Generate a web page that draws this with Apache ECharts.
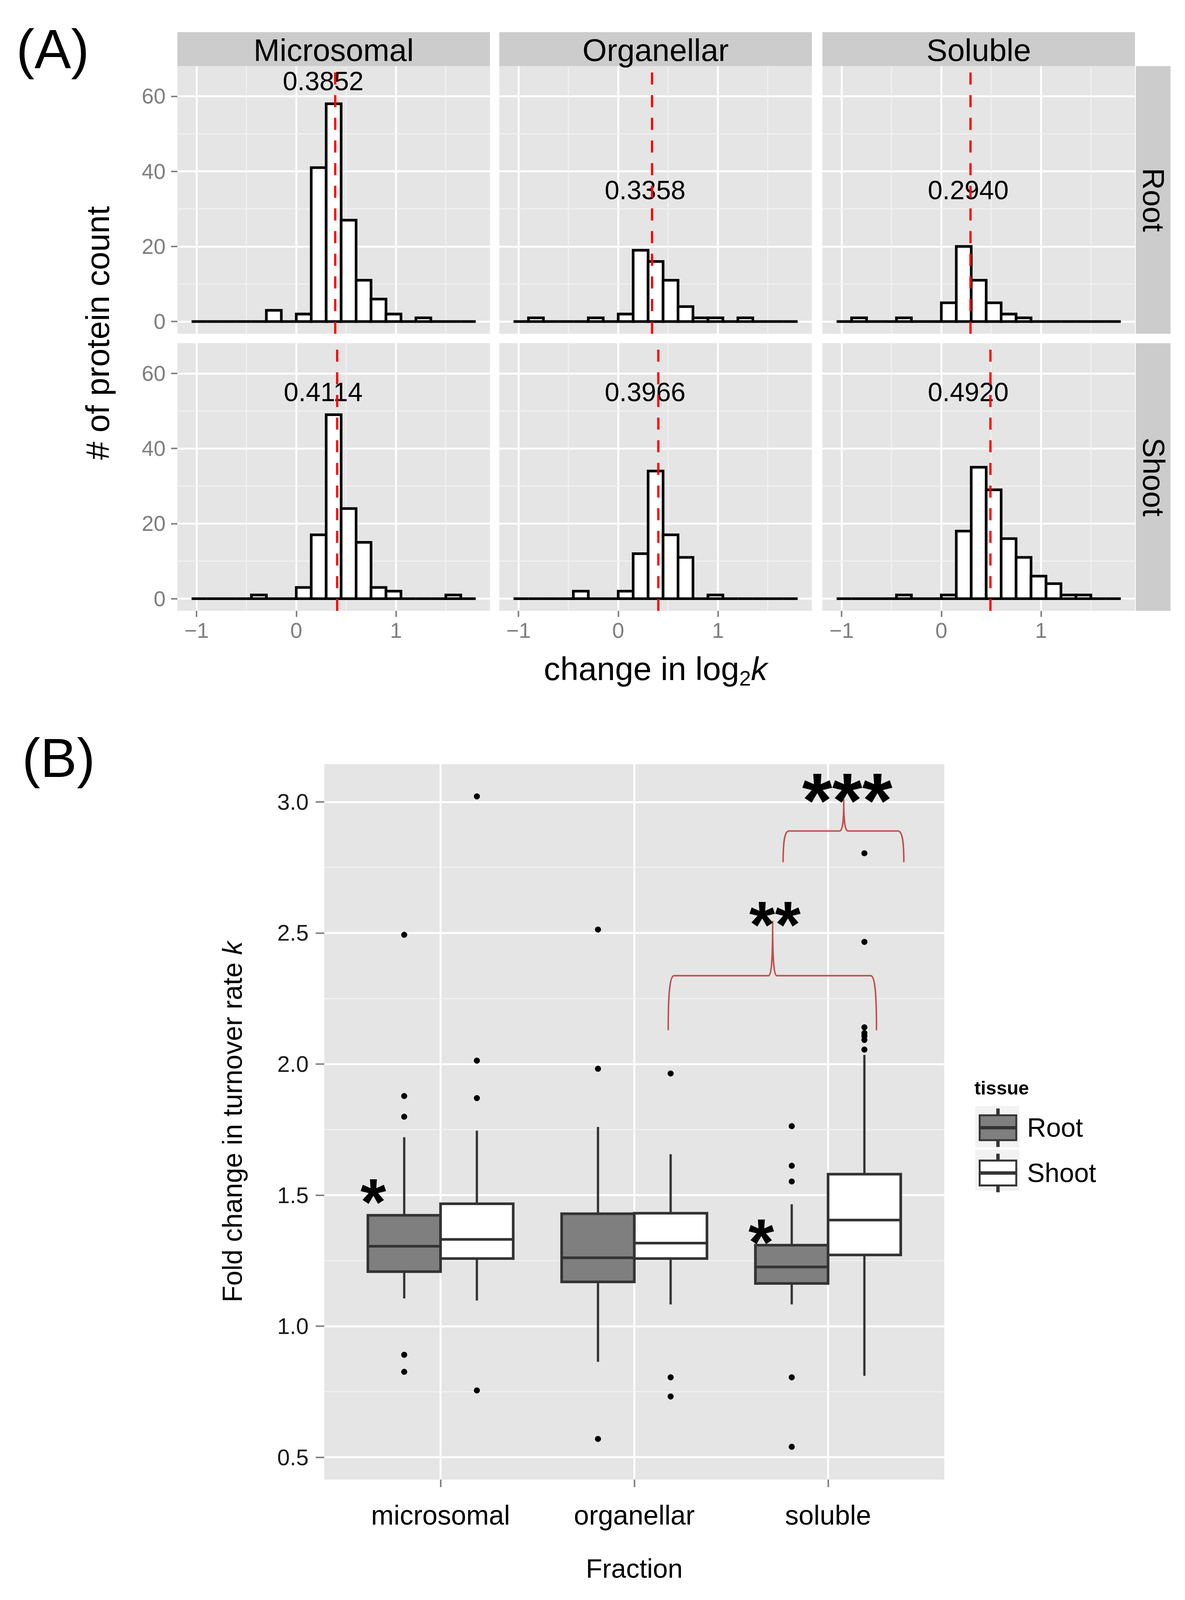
<!DOCTYPE html>
<html><head><meta charset="utf-8">
<script src="https://cdn.jsdelivr.net/npm/echarts@6/dist/echarts.min.js"></script>
<style>html,body{margin:0;padding:0;background:#fff;overflow:hidden}#c{width:3033px;height:4238px}</style>
</head><body><div id="c"></div>
<script>
// ---------------- DATA: panel A (histograms) ----------------
const binEdges = [-1.05,-0.90,-0.75,-0.60,-0.45,-0.30,-0.15,0,0.15,0.30,0.45,0.60,0.75,0.90,1.05,1.20,1.35,1.50,1.65,1.80];
const fractionsA = ['Microsomal','Organellar','Soluble'];
const tissuesA = ['Root','Shoot'];
const countsRootMicrosomal  = [0,0,0,0,0,3,0,2,41,58,27,11,6,2,0,1,0,0,0];
const countsRootOrganellar  = [0,1,0,0,0,1,0,2,19,16,11,4,1,1,0,1,0,0,0];
const countsRootSoluble     = [0,1,0,0,1,0,0,5,20,11,5,2,1,0,0,0,0,0,0];
const countsShootMicrosomal = [0,0,0,0,1,0,0,3,17,49,24,15,3,2,0,0,0,1,0];
const countsShootOrganellar = [0,0,0,0,2,0,0,2,12,34,17,11,0,1,0,0,0,0,0];
const countsShootSoluble    = [0,0,0,0,1,0,0,1,18,35,29,16,11,6,4,1,1,0,0];
const meanRoot  = [0.3852, 0.3358, 0.2940];
const meanShoot = [0.4114, 0.3966, 0.4920];
const labelYRoot  = [64, 35, 35];
const labelYShoot = [55, 55, 55];
const labelX = 0.27;
const histYTicks = [0,20,40,60];
const histYMinor = [10,30,50];
const histXTicks = [-1,0,1];
const histXMinor = [-0.5,0.5,1.5];

// ---------------- DATA: panel B (boxplots) ----------------
const fractionsB = ['microsomal','organellar','soluble'];
// [lower whisker, Q1, median, Q3, upper whisker]
const boxRoot  = [[1.106,1.208,1.305,1.423,1.721],[0.864,1.169,1.261,1.429,1.760],[1.083,1.163,1.226,1.309,1.465]];
const boxShoot = [[1.098,1.258,1.331,1.467,1.746],[1.083,1.258,1.317,1.431,1.656],[0.811,1.272,1.405,1.580,2.035]];
const outRoot  = [[0.891,0.826,1.799,1.878,2.493],[0.570,1.982,2.513],[0.805,0.540,1.552,1.612,1.763]];
const outShoot = [[0.755,1.870,2.013,3.021],[0.732,0.805,1.964],[2.055,2.092,2.107,2.118,2.140,2.466,2.804]];
const boxYTicks = [0.5,1.0,1.5,2.0,2.5,3.0];
const boxYMinor = [0.75,1.25,1.75,2.25,2.75];
const boxXTicks = [0,1,2];
const starText = ['*','*','**','***'];
const starX = [-0.347, 1.655, 1.726, 2.099];
const starY = [1.53, 1.376, 2.588, 3.070];
const braceLeft  = [1.175, 1.768];
const braceRight = [2.25, 2.391];
const braceMid   = [1.714, 2.081];
const braceEndY  = [2.129, 2.770];
const braceBarY  = [2.337, 2.889];
const braceTipY  = [2.546, 3.010];

// ---------------- layout / style ----------------
const W = window.innerWidth || 3033, H = window.innerHeight || 4238;
const kx = W / 3033, ky = H / 4238, kf = Math.min(kx, ky);
const X = v => v * kx, Y = v => v * ky, F = v => v * kf;
const el = document.getElementById('c');
el.style.width = W + 'px'; el.style.height = H + 'px';

const FONT = "'Liberation Sans', Arial, Helvetica, sans-serif";
const histCounts = [[countsRootMicrosomal, countsRootOrganellar, countsRootSoluble],
                    [countsShootMicrosomal, countsShootOrganellar, countsShootSoluble]];
const means = [meanRoot, meanShoot];
const labelYs = [labelYRoot, labelYShoot];
const panelLeft = [454, 1278, 2105], panelW = 800, rowTop = [175, 909], panelH = 709;
const boxHalf = 0.1875;

const chart = echarts.init(el, null, {renderer: 'svg', width: W, height: H});

function minorGridRender(params, api) {
  const cs = params.coordSys;
  const horiz = api.value(2) === 1;
  const pt = api.coord([api.value(0), api.value(1)]);
  const shape = horiz ? {x1: cs.x, y1: pt[1], x2: cs.x + cs.width, y2: pt[1]}
                      : {x1: pt[0], y1: cs.y, x2: pt[0], y2: cs.y + cs.height};
  return {type: 'line', shape: shape, style: {stroke: '#f3f3f3', lineWidth: F(2.5)}};
}
function histRender(params, api) {
  const x0 = api.value(0), x1 = api.value(1), n = api.value(2);
  const a = api.coord([x0, 0]), b = api.coord([x1, n]);
  if (n === 0) return {type: 'line', shape: {x1: a[0], y1: a[1], x2: b[0], y2: a[1]}, style: {stroke: '#000', lineWidth: F(7)}};
  return {type: 'rect', shape: {x: a[0], y: b[1], width: b[0] - a[0], height: a[1] - b[1]},
          style: {fill: '#fff', stroke: '#000', lineWidth: F(7)}};
}
function makeBoxRender(offset, fill) {
  return function (params, api) {
    const cx = api.value(0) + offset;
    const lw = api.value(1), q1 = api.value(2), med = api.value(3), q3 = api.value(4), uw = api.value(5);
    const tl = api.coord([cx - boxHalf, q3]), br = api.coord([cx + boxHalf, q1]);
    const pm = api.coord([cx, med]), pu = api.coord([cx, uw]), pl = api.coord([cx, lw]);
    const ls = {stroke: '#333333', lineWidth: F(6)};
    return {type: 'group', children: [
      {type: 'line', shape: {x1: pm[0], y1: pu[1], x2: pm[0], y2: tl[1]}, style: ls},
      {type: 'line', shape: {x1: pm[0], y1: br[1], x2: pm[0], y2: pl[1]}, style: ls},
      {type: 'rect', shape: {x: tl[0], y: tl[1], width: br[0] - tl[0], height: br[1] - tl[1]},
       style: {fill: fill, stroke: '#333333', lineWidth: F(7)}},
      {type: 'line', shape: {x1: tl[0], y1: pm[1], x2: br[0], y2: pm[1]}, style: {stroke: '#333333', lineWidth: F(7)}}
    ]};
  };
}
function makeOutlierRender(offset) {
  return function (params, api) {
    const p = api.coord([api.value(0) + offset, api.value(1)]);
    return {type: 'circle', shape: {cx: p[0], cy: p[1], r: F(8)}, style: {fill: '#000'}};
  };
}
function braceRender(params, api) {
  const L = api.coord([api.value(0), api.value(3)]);
  const R = api.coord([api.value(1), api.value(3)]);
  const M = api.coord([api.value(2), api.value(4)]);
  const T = api.coord([api.value(2), api.value(5)]);
  const B = M[1], mx = M[0], ty = T[1], Ly = L[1];
  const r = X(15), c = X(11);
  const d = [
    'M', L[0], Ly,
    'C', L[0], B + (Ly - B) * 0.35, L[0] + r * 0.25, B, L[0] + r, B,
    'L', mx - c, B,
    'C', mx - c * 0.2, B, mx, B - (B - ty) * 0.35, mx, ty,
    'C', mx, B - (B - ty) * 0.35, mx + c * 0.2, B, mx + c, B,
    'L', R[0] - r, B,
    'C', R[0] - r * 0.25, B, R[0], B + (Ly - B) * 0.35, R[0], Ly
  ].join(' ');
  return {type: 'path', shape: {pathData: d}, style: {fill: 'none', stroke: '#c0504d', lineWidth: F(4)}};
}
function starRender(params, api) {
  const txt = starText[params.dataIndex];
  const fs = F(txt.length === 3 ? 205 : 175);
  const p = api.coord([api.value(0), api.value(1)]);
  return {type: 'text', style: {text: txt, x: p[0], y: p[1] + 0.22 * fs, fill: '#000',
    fontSize: fs, fontWeight: 'bold', fontFamily: FONT,
    textAlign: 'center', textVerticalAlign: 'middle', align: 'center', verticalAlign: 'middle'}};
}
function txt(text, x, y, size, opts) {
  opts = opts || {};
  return {type: 'text', x: X(x), y: Y(y), rotation: opts.rotation || 0, z: 1,
    style: {text: text, fontSize: F(size), fontFamily: FONT, fontWeight: opts.bold ? 'bold' : 'normal', fill: '#000',
      textAlign: opts.align || 'center', textVerticalAlign: 'middle', align: opts.align || 'center', verticalAlign: 'middle'}};
}

const option = {
  animation: false,
  backgroundColor: '#ffffff',
  textStyle: {fontFamily: FONT},
  grid: [], xAxis: [], yAxis: [], series: [], graphic: []
};

// ---------- Panel A ----------
for (let r = 0; r < 2; r++) {
  for (let c = 0; c < 3; c++) {
    const g = r * 3 + c;
    option.grid.push({left: X(panelLeft[c]), top: Y(rowTop[r]), width: X(panelW), height: Y(panelH),
      show: true, backgroundColor: '#e5e5e5', borderWidth: 0});
    const xa = {
      gridIndex: g, type: 'value', min: -1.1925, max: 1.9425, splitNumber: 3,
      axisLine: {show: false, onZero: false},
      axisTick: {show: r === 1, customValues: histXTicks, length: Y(16), lineStyle: {color: '#7f7f7f', width: F(4)}},
      axisLabel: {show: r === 1, customValues: histXTicks, margin: Y(24), fontSize: F(57), color: '#7f7f7f', fontFamily: FONT,
        formatter: v => histXTicks.includes(v) ? String(v).replace('-', '\u2212') : ''},
      splitLine: {show: true, lineStyle: {color: '#ffffff', width: F(5)}}
    };
    if (r === 1 && c === 1) {
      xa.name = '{a|change in log}{s|2}{i|k}';
      xa.nameLocation = 'middle';
      xa.nameGap = Y(100);
      xa.nameMoveOverlap = false;
      xa.nameTextStyle = {color: '#000', rich: {
        a: {fontSize: F(87), fontFamily: FONT, color: '#000'},
        s: {fontSize: F(56), fontFamily: FONT, color: '#000', padding: [F(50), 0, 0, 0]},
        i: {fontSize: F(87), fontFamily: FONT, fontStyle: 'italic', color: '#000'}
      }};
    }
    option.xAxis.push(xa);
    option.yAxis.push({
      gridIndex: g, type: 'value', min: -3.24, max: 68.04, splitNumber: 3,
      axisLine: {show: false, onZero: false},
      axisTick: {show: c === 0, customValues: histYTicks, length: X(16), lineStyle: {color: '#7f7f7f', width: F(4)}},
      axisLabel: {show: c === 0, customValues: histYTicks, margin: X(30), fontSize: F(57), color: '#7f7f7f', fontFamily: FONT,
        formatter: v => histYTicks.includes(v) ? String(v) : ''},
      splitLine: {show: true, lineStyle: {color: '#ffffff', width: F(5)}}
    });
    option.series.push({
      type: 'custom', xAxisIndex: g, yAxisIndex: g, z: 1, silent: true,
      data: histXMinor.map(v => [v, 0, 0]).concat(histYMinor.map(v => [0, v, 1])),
      renderItem: minorGridRender
    });
    option.series.push({
      type: 'custom', xAxisIndex: g, yAxisIndex: g, z: 2, silent: true,
      data: [[labelX, labelYs[r][c], means[r][c]]],
      renderItem: function (params, api) {
        const pt = api.coord([api.value(0), api.value(1)]);
        return {type: 'text', style: {text: api.value(2).toFixed(4), x: pt[0], y: pt[1], fill: '#000',
          fontSize: F(70), fontFamily: FONT, textAlign: 'center', textVerticalAlign: 'middle', align: 'center', verticalAlign: 'middle'}};
      }
    });
    option.series.push({
      type: 'custom', name: fractionsA[c] + ' ' + tissuesA[r], xAxisIndex: g, yAxisIndex: g, z: 3, silent: true,
      data: histCounts[r][c].map((n, i) => [binEdges[i], binEdges[i + 1], n]),
      renderItem: histRender,
      markLine: {silent: true, symbol: 'none', label: {show: false},
        lineStyle: {color: '#ff0000', width: F(6), type: [Y(32), Y(28)]},
        data: [{xAxis: means[r][c]}]}
    });
  }
}

// strips and panel-A titles
for (let c = 0; c < 3; c++) {
  option.graphic.push({type: 'rect', shape: {x: X(panelLeft[c]), y: Y(85), width: X(panelW), height: Y(90)}, style: {fill: '#cccccc'}, z: 0});
  option.graphic.push(txt(fractionsA[c], panelLeft[c] + panelW / 2, 132, 83));
}
for (let r = 0; r < 2; r++) {
  option.graphic.push({type: 'rect', shape: {x: X(2907), y: Y(rowTop[r]), width: X(89), height: Y(panelH)}, style: {fill: '#cccccc'}, z: 0});
  option.graphic.push(txt(tissuesA[r], 2953, rowTop[r] + panelH / 2, 80, {rotation: -Math.PI / 2}));
}
option.graphic.push(txt('# of protein count', 250, 882, 87, {rotation: Math.PI / 2}));
option.graphic.push(txt('(A)', 135, 130, 145));
option.graphic.push(txt('(B)', 150, 2008, 145));

// ---------- Panel B ----------
const gB = 6;
option.grid.push({left: X(830), top: Y(2024), width: X(1587), height: Y(1895), show: true, backgroundColor: '#e5e5e5', borderWidth: 0});
option.xAxis.push({
  gridIndex: gB, type: 'value', min: -0.6, max: 2.6, splitNumber: 3,
  axisLine: {show: false, onZero: false},
  axisTick: {show: true, customValues: boxXTicks, length: Y(20), lineStyle: {color: '#7f7f7f', width: F(4)}},
  axisLabel: {customValues: boxXTicks, margin: Y(58), fontSize: F(72), color: '#000', fontFamily: FONT,
    formatter: v => (Number.isInteger(v) && fractionsB[v]) ? fractionsB[v] : ''},
  splitLine: {show: true, lineStyle: {color: '#ffffff', width: F(5)}},
  name: 'Fraction', nameLocation: 'middle', nameGap: Y(200), nameMoveOverlap: false,
  nameTextStyle: {fontSize: F(71), color: '#000', fontFamily: FONT}
});
option.yAxis.push({
  gridIndex: gB, type: 'value', min: 0.415, max: 3.144,
  axisLine: {show: false, onZero: false},
  axisTick: {show: true, customValues: boxYTicks, length: X(22), lineStyle: {color: '#7f7f7f', width: F(4)}},
  axisLabel: {customValues: boxYTicks, margin: X(40), fontSize: F(60), color: '#1a1a1a', fontFamily: FONT,
    formatter: v => boxYTicks.some(m => Math.abs(m - v) < 1e-9) ? v.toFixed(1) : ''},
  splitLine: {show: true, lineStyle: {color: '#ffffff', width: F(5)}},
  name: '{a|Fold change in turnover rate }{i|k}', nameLocation: 'middle', nameGap: X(200), nameMoveOverlap: false,
  nameTextStyle: {color: '#000', rich: {
    a: {fontSize: F(72), fontFamily: FONT, color: '#000'},
    i: {fontSize: F(72), fontFamily: FONT, fontStyle: 'italic', color: '#000'}
  }}
});
option.series.push({
  type: 'custom', xAxisIndex: gB, yAxisIndex: gB, z: 1, silent: true,
  data: boxYMinor.map(v => [0, v, 1]), renderItem: minorGridRender
});
option.series.push({
  type: 'custom', name: 'Root', xAxisIndex: gB, yAxisIndex: gB, z: 3, silent: true,
  data: boxRoot.map((b, i) => [i].concat(b)), renderItem: makeBoxRender(-boxHalf, '#7f7f7f')
});
option.series.push({
  type: 'custom', name: 'Shoot', xAxisIndex: gB, yAxisIndex: gB, z: 3, silent: true,
  data: boxShoot.map((b, i) => [i].concat(b)), renderItem: makeBoxRender(boxHalf, '#ffffff')
});
option.series.push({
  type: 'custom', name: 'Root outliers', xAxisIndex: gB, yAxisIndex: gB, z: 4, silent: true,
  data: outRoot.flatMap((arr, i) => arr.map(v => [i, v])), renderItem: makeOutlierRender(-boxHalf)
});
option.series.push({
  type: 'custom', name: 'Shoot outliers', xAxisIndex: gB, yAxisIndex: gB, z: 4, silent: true,
  data: outShoot.flatMap((arr, i) => arr.map(v => [i, v])), renderItem: makeOutlierRender(boxHalf)
});
option.series.push({
  type: 'custom', name: 'braces', xAxisIndex: gB, yAxisIndex: gB, z: 5, silent: true,
  data: braceLeft.map((v, i) => [v, braceRight[i], braceMid[i], braceEndY[i], braceBarY[i], braceTipY[i]]),
  renderItem: braceRender
});
option.series.push({
  type: 'custom', name: 'stars', xAxisIndex: gB, yAxisIndex: gB, z: 5, silent: true,
  data: starX.map((v, i) => [v, starY[i]]), renderItem: starRender
});

// legend
const boxIcon = 'path://M0 16 L100 16 L100 84 L0 84 Z M0 48 L100 48 L100 52 L0 52 Z M48 0 L52 0 L52 16 L48 16 Z M48 84 L52 84 L52 100 L48 100 Z';
option.graphic.push({type: 'rect', shape: {x: X(2496), y: Y(2930), width: X(113), height: Y(109)}, style: {fill: '#f2f2f2'}, z: 0});
option.graphic.push({type: 'rect', shape: {x: X(2496), y: Y(3045), width: X(113), height: Y(109)}, style: {fill: '#f2f2f2'}, z: 0});
option.graphic.push(txt('tissue', 2494, 2882, 50, {bold: true, align: 'left'}));
option.legend = {
  orient: 'vertical', left: X(2505), top: Y(2936), itemWidth: X(95), itemHeight: Y(97), itemGap: Y(18),
  selectedMode: false, padding: 0,
  textStyle: {fontSize: F(70), color: '#000', fontFamily: FONT, padding: [0, 0, 0, X(22)]},
  data: [
    {name: 'Root', icon: boxIcon, itemStyle: {color: '#7f7f7f', borderColor: '#333333', borderWidth: F(5)}},
    {name: 'Shoot', icon: boxIcon, itemStyle: {color: '#ffffff', borderColor: '#333333', borderWidth: F(5)}}
  ]
};

chart.setOption(option);
</script>
</body></html>
